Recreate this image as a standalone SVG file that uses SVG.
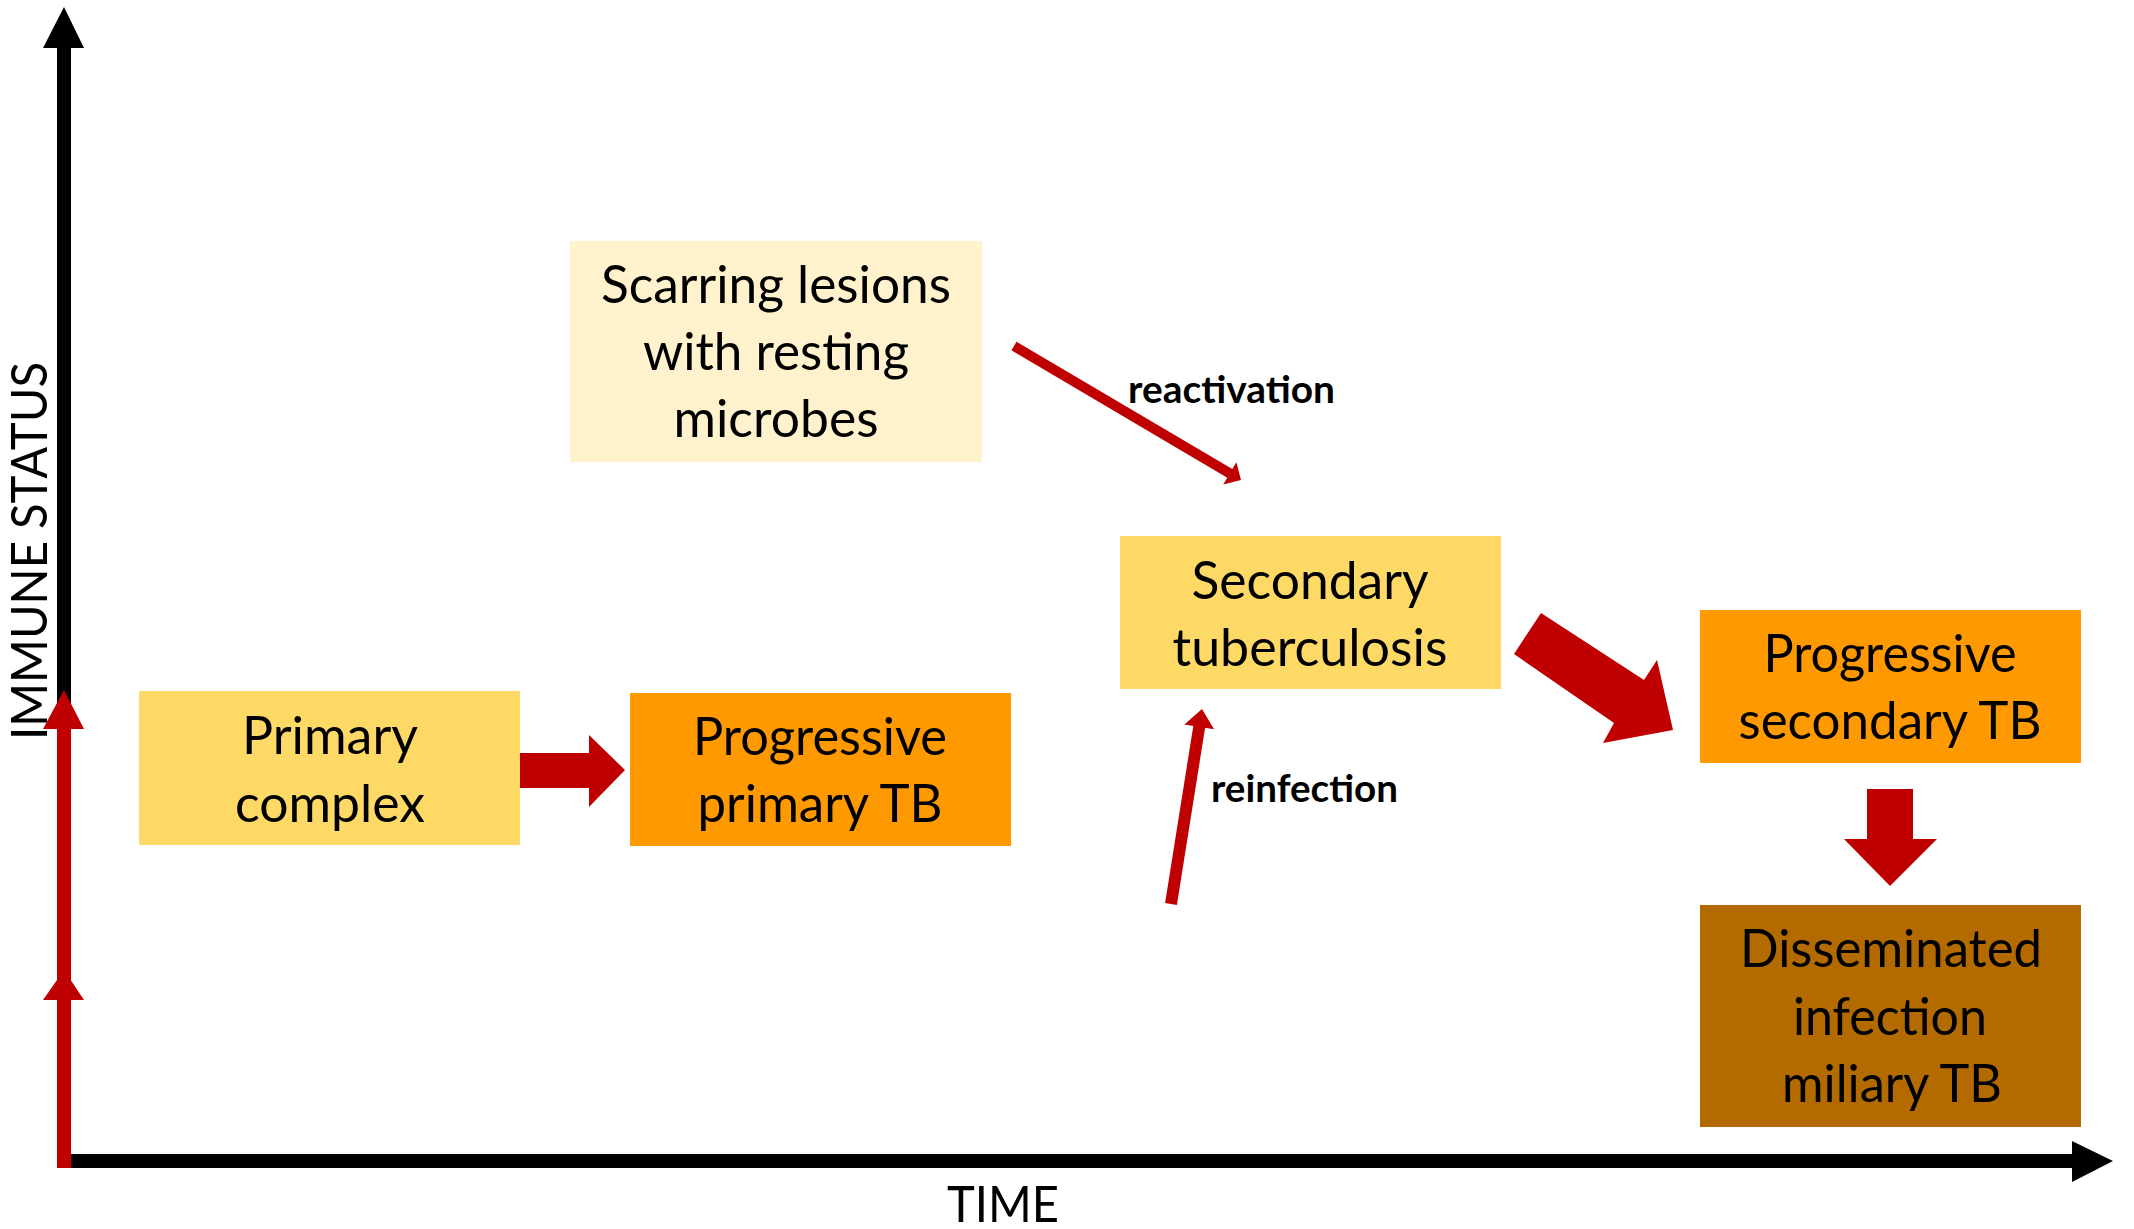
<svg xmlns="http://www.w3.org/2000/svg" width="2134" height="1229" viewBox="0 0 2134 1229">
<style>
.t{font-family:Lato,"Open Sans","Liberation Sans",sans-serif;font-size:52px;fill:#000;text-anchor:middle}
.lbl{font-family:Lato,"Open Sans","Liberation Sans",sans-serif;font-size:38px;font-weight:bold;fill:#000}
.ax{font-family:Lato,"Open Sans","Liberation Sans",sans-serif;font-size:50px;fill:#000}
.red{fill:#C00000}
.blk{fill:#000}
</style>
<rect width="2134" height="1229" fill="#fff"/>
<g id="axes">
  <polygon class="blk" points="57,1168 57,48 43,48 64,7 84,48 71,48 71,1154 2072,1154 2072,1141 2113,1161 2072,1182 2072,1168"/>
  <text class="ax" x="947" y="1222" textLength="112" lengthAdjust="spacingAndGlyphs">TIME</text>
  <text class="ax" transform="translate(47,740) rotate(-90)" textLength="378" lengthAdjust="spacingAndGlyphs">IMMUNE STATUS</text>
</g>
<g id="immune-arrow">
  <rect class="red" x="57" y="725" width="14" height="443"/>
  <polygon class="red" points="43,729 64,690 84,729"/>
  <polygon class="red" points="43,1000 64,970 84,1000"/>
</g>
<g id="node-scarring">
  <rect x="570" y="241" width="412" height="221" fill="#FFF2CC"/>
  <text class="t" x="776" y="303" textLength="350" lengthAdjust="spacingAndGlyphs">Scarring lesions</text>
  <text class="t" x="776" y="370" textLength="266" lengthAdjust="spacingAndGlyphs">with resting</text>
  <text class="t" x="776" y="437" textLength="205" lengthAdjust="spacingAndGlyphs">microbes</text>
</g>
<g id="node-primary">
  <rect x="139" y="691" width="381" height="154" fill="#FFD966"/>
  <text class="t" x="330" y="754" textLength="176" lengthAdjust="spacingAndGlyphs">Primary</text>
  <text class="t" x="330" y="822" textLength="190" lengthAdjust="spacingAndGlyphs">complex</text>
</g>
<g id="node-progressive-primary">
  <rect x="630" y="693" width="381" height="153" fill="#FF9900"/>
  <text class="t" x="820" y="755" textLength="254" lengthAdjust="spacingAndGlyphs">Progressive</text>
  <text class="t" x="820" y="822" textLength="245" lengthAdjust="spacingAndGlyphs">primary TB</text>
</g>
<g id="node-secondary">
  <rect x="1120" y="536" width="381" height="153" fill="#FFD966"/>
  <text class="t" x="1310" y="599" textLength="237" lengthAdjust="spacingAndGlyphs">Secondary</text>
  <text class="t" x="1310" y="666" textLength="275" lengthAdjust="spacingAndGlyphs">tuberculosis</text>
</g>
<g id="node-progressive-secondary">
  <rect x="1700" y="610" width="381" height="153" fill="#FF9900"/>
  <text class="t" x="1890" y="672" textLength="253" lengthAdjust="spacingAndGlyphs">Progressive</text>
  <text class="t" x="1890" y="739" textLength="303" lengthAdjust="spacingAndGlyphs">secondary TB</text>
</g>
<g id="node-disseminated">
  <rect x="1700" y="905" width="381" height="222" fill="#B36B00"/>
  <text class="t" x="1891" y="967" textLength="302" lengthAdjust="spacingAndGlyphs">Disseminated</text>
  <text class="t" x="1890" y="1035" textLength="194" lengthAdjust="spacingAndGlyphs">infection</text>
  <text class="t" x="1892" y="1102" textLength="220" lengthAdjust="spacingAndGlyphs">miliary TB</text>
</g>
<g id="connectors">
  <polygon id="arrow-primary-progressive" class="red" points="520,753 589,753 589,735 625,770 589,807 589,788 520,788"/>
  <polygon id="arrow-reactivation" class="red" points="1011.5,350.3 1227.3,477.7 1223.2,484.6 1241,480 1236.4,462.2 1232.3,469.1 1016.5,341.7"/>
  <polygon id="arrow-reinfection" class="red" points="1165.1,903.1 1193.3,725.9 1184.4,724.4 1202,709 1214,729.2 1205.1,727.7 1176.9,904.9"/>
  <polygon id="arrow-secondary-progressive" class="red" points="1541,613 1644,680 1657,660 1673,730 1603,743 1614,723 1514,654"/>
  <polygon id="arrow-progressive-disseminated" class="red" points="1867,789 1913,789 1913,839 1937,839 1890,886 1844,839 1867,839"/>
  <text class="lbl" x="1128" y="403" textLength="207" lengthAdjust="spacingAndGlyphs">reactivation</text>
  <text class="lbl" x="1211" y="802" textLength="187" lengthAdjust="spacingAndGlyphs">reinfection</text>
</g>
</svg>
